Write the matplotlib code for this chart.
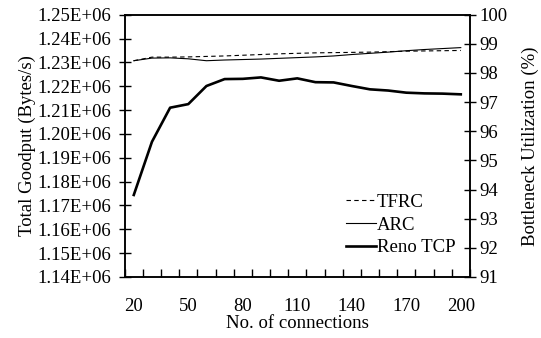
import matplotlib
matplotlib.use("Agg")
import matplotlib.pyplot as plt
from matplotlib.ticker import FuncFormatter, MultipleLocator

plt.rcParams['font.family'] = ['Liberation Serif', 'DejaVu Serif']

connections = [20, 30, 40, 50, 60, 70, 80, 90, 100, 110, 120, 130, 140, 150,
               160, 170, 180, 190, 200]
tfrc = [1.2307e6, 1.2322e6, 1.2322e6, 1.2323e6, 1.2325e6, 1.2327e6, 1.2330e6,
        1.2333e6, 1.2336e6, 1.2338e6, 1.2340e6, 1.2341e6, 1.2342e6, 1.2343e6,
        1.2345e6, 1.2347e6, 1.2348e6, 1.2349e6, 1.2350e6]
arc = [1.2307e6, 1.2318e6, 1.2319e6, 1.2315e6, 1.2307e6, 1.2310e6, 1.2312e6,
       1.2314e6, 1.2317e6, 1.2320e6, 1.2323e6, 1.2327e6, 1.2333e6, 1.2338e6,
       1.2343e6, 1.2349e6, 1.2354e6, 1.2358e6, 1.2362e6]
reno = [1.1744e6, 1.1967e6, 1.2110e6, 1.2125e6, 1.2201e6, 1.2230e6, 1.2231e6,
        1.2237e6, 1.2223e6, 1.2233e6, 1.2217e6, 1.2216e6, 1.2201e6, 1.2187e6,
        1.2182e6, 1.2173e6, 1.2170e6, 1.2169e6, 1.2166e6]
x_tick_labels = [20, 50, 80, 110, 140, 170, 200]

FS = 13.5

fig = plt.figure(figsize=(5.41, 3.38), dpi=100)
ax = fig.add_axes([0.2305, 0.1805, 0.638, 0.776])

ax.plot(connections, tfrc, color='black', lw=0.8, ls=(0, (4, 3)), label='TFRC')
ax.plot(connections, arc, color='black', lw=0.8, label='ARC')
ax.plot(connections, reno, color='black', lw=1.9, label='Reno TCP')

ax.set_xlim(15, 205)
ax.set_ylim(1.14e6, 1.25e6)
ax.yaxis.set_major_locator(MultipleLocator(0.01e6))
ax.yaxis.set_major_formatter(FuncFormatter(lambda v, p: f"{v/1e6:.2f}E+06"))

ax.set_xticks(x_tick_labels)
ax.set_xticklabels([str(v) for v in x_tick_labels])
ax.set_xticks([c - 5 for c in connections] + [connections[-1] + 5], minor=True)
ax.tick_params(axis='x', which='major', length=0, pad=15, labelsize=FS)
ax.tick_params(axis='x', which='minor', direction='in', length=6, width=1.0)
ax.tick_params(axis='y', direction='inout', length=8, width=1.0, labelsize=FS, pad=6)

for s in ax.spines.values():
    s.set_linewidth(1.1)

ax.set_xlabel('No. of connections', fontsize=FS, labelpad=0)
ax.set_ylabel('Total Goodput (Bytes/s)', fontsize=FS, labelpad=1)

ax2 = ax.twinx()
ax2.set_ylim(91, 100)
ax2.yaxis.set_major_locator(MultipleLocator(1))
ax2.tick_params(axis='y', direction='inout', length=8, width=1.0, labelsize=FS, pad=3)
ax2.set_ylabel('Bottleneck Utilization (%)', fontsize=FS, labelpad=10)
for s in ax2.spines.values():
    s.set_linewidth(1.1)

leg = ax.legend(loc='lower right', frameon=False, fontsize=FS,
                handlelength=1.6, handletextpad=0.05, labelspacing=0.3,
                borderaxespad=0.0, bbox_to_anchor=(0.98, 0.05))

fig.savefig('out.png', dpi=100)
